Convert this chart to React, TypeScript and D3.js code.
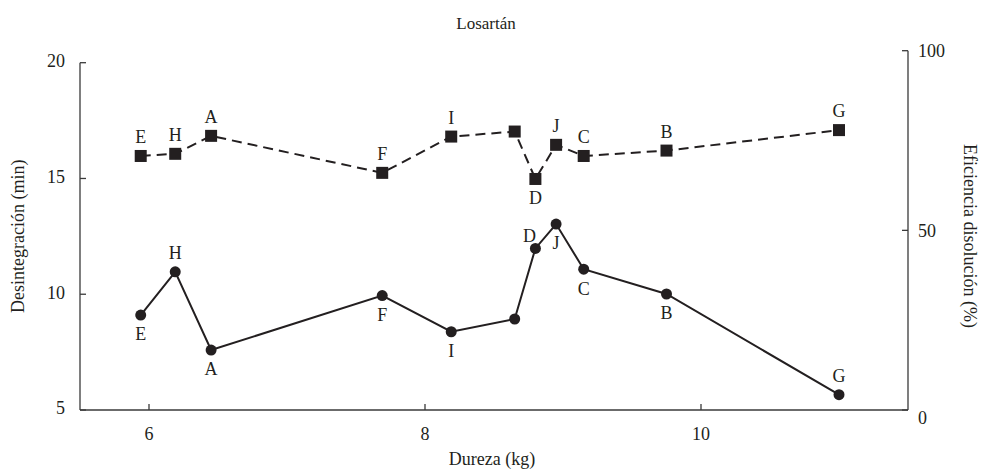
import * as d3 from "d3";

// Losartán: hardness vs disintegration time and dissolution efficiency
const hardness = [5.94, 6.19, 6.45, 7.69, 8.19, 8.65, 8.8, 8.95, 9.15, 9.75, 11.0];
const formulas = ["E", "H", "A", "F", "I", "", "D", "J", "C", "B", "G"];
const disintegration = [9.1, 10.97, 7.59, 9.94, 8.38, 8.93, 11.98, 13.03, 11.08, 10.01, 5.66];
const dissolution = [70.7, 71.3, 76.3, 66.0, 76.1, 77.5, 64.3, 73.8, 70.7, 72.2, 77.9];
const disintLabelSide = ["below", "above", "below", "below", "below", "", "left", "below", "below", "below", "above"];
const dissolLabelSide = ["above", "above", "above", "above", "above", "", "below", "above", "above", "above", "above"];

const xTicks = [6, 8, 10];
const leftTicks = [5, 10, 15, 20];
const rightTicks = [0, 50, 100];

const W = 986;
const H = 470;
const FONT = "'Liberation Serif', 'DejaVu Serif', serif";
const INK = "#231f20";
const AXIS = "#3a3a3a";

export default function App() {
  const x = d3.scaleLinear().domain([5.5, 11.5]).range([80, 908]);
  const yL = d3.scaleLinear().domain([5, 20]).range([410, 62.7]);
  const yR = d3.scaleLinear().domain([0, 100]).range([410, 50.7]);

  const solid = d3
    .line<number>()
    .x((_, i) => x(hardness[i]))
    .y((d) => yL(d));
  const dashed = d3
    .line<number>()
    .x((_, i) => x(hardness[i]))
    .y((d) => yR(d));

  const labelOffset = (side: string) => {
    if (side === "above") return { dx: 0, dy: -19 };
    if (side === "below") return { dx: 0, dy: 19 };
    if (side === "left") return { dx: -6, dy: -13 };
    return { dx: 0, dy: 0 };
  };

  const x0 = x.range()[0];
  const x1 = x.range()[1];
  const yBottom = yL.range()[0];
  const tick = 6;

  return (
    <svg
      width={W}
      height={H}
      style={{ position: "absolute", left: 0, top: 0, background: "#fff" }}
      fontFamily={FONT}
    >
      {/* title */}
      <text x={486} y={23} dy="0.35em" textAnchor="middle" fontSize={17} fill={INK}>
        Losartán
      </text>

      {/* x axis */}
      <line x1={x0} x2={x1} y1={yBottom} y2={yBottom} stroke={AXIS} strokeWidth={1.3} />
      {xTicks.map((t) => (
        <g key={"xt" + t}>
          <line x1={x(t)} x2={x(t)} y1={yBottom} y2={yBottom - tick} stroke={AXIS} strokeWidth={1.3} />
          <text x={x(t)} y={434} dy="0.35em" textAnchor="middle" fontSize={18} fill={INK}>
            {t}
          </text>
        </g>
      ))}
      <text x={492} y={459} dy="0.35em" textAnchor="middle" fontSize={18} fill={INK}>
        Dureza (kg)
      </text>

      {/* left axis */}
      <line x1={x0} x2={x0} y1={yL.range()[1]} y2={yBottom} stroke={AXIS} strokeWidth={1.3} />
      {leftTicks.map((t) => (
        <g key={"yl" + t}>
          <line x1={x0} x2={x0 + tick} y1={yL(t)} y2={yL(t)} stroke={AXIS} strokeWidth={1.3} />
          <text x={65} y={yL(t) - 2} dy="0.35em" textAnchor="end" fontSize={18} fill={INK}>
            {t}
          </text>
        </g>
      ))}
      <text
        transform={`translate(18,${(yL.range()[0] + yL.range()[1]) / 2}) rotate(-90)`}
        dy="0.35em"
        textAnchor="middle"
        fontSize={18}
        fill={INK}
      >
        Desintegración (min)
      </text>

      {/* right axis */}
      <line x1={x1} x2={x1} y1={yR.range()[1]} y2={yBottom} stroke={AXIS} strokeWidth={1.3} />
      {rightTicks.map((t) => (
        <g key={"yr" + t}>
          <line x1={x1} x2={x1 - tick} y1={yR(t)} y2={yR(t)} stroke={AXIS} strokeWidth={1.3} />
          <text
            x={918}
            y={t === 0 ? yR(t) + 8 : yR(t)}
            dy="0.35em"
            textAnchor="start"
            fontSize={18}
            fill={INK}
          >
            {t}
          </text>
        </g>
      ))}
      <text
        transform={`translate(970,236) rotate(90)`}
        dy="0.35em"
        textAnchor="middle"
        fontSize={18}
        fill={INK}
      >
        Eficiencia disolución (%)
      </text>

      {/* dissolution efficiency (dashed, squares) */}
      <path d={dashed(dissolution) ?? ""} fill="none" stroke={INK} strokeWidth={2} strokeDasharray="10,6" />
      {dissolution.map((v, i) => (
        <rect
          key={"sq" + i}
          x={x(hardness[i]) - 6}
          y={yR(v) - 6}
          width={12}
          height={12}
          fill={INK}
        />
      ))}
      {dissolution.map((v, i) => {
        const o = labelOffset(dissolLabelSide[i]);
        return (
          <text
            key={"sl" + i}
            x={x(hardness[i]) + o.dx}
            y={yR(v) + o.dy}
            dy="0.35em"
            textAnchor="middle"
            fontSize={18}
            fill={INK}
          >
            {formulas[i]}
          </text>
        );
      })}

      {/* disintegration time (solid, circles) */}
      <path d={solid(disintegration) ?? ""} fill="none" stroke={INK} strokeWidth={2} />
      {disintegration.map((v, i) => (
        <circle key={"c" + i} cx={x(hardness[i])} cy={yL(v)} r={5.5} fill={INK} />
      ))}
      {disintegration.map((v, i) => {
        const o = labelOffset(disintLabelSide[i]);
        return (
          <text
            key={"cl" + i}
            x={x(hardness[i]) + o.dx}
            y={yL(v) + o.dy}
            dy="0.35em"
            textAnchor="middle"
            fontSize={18}
            fill={INK}
          >
            {formulas[i]}
          </text>
        );
      })}
    </svg>
  );
}
